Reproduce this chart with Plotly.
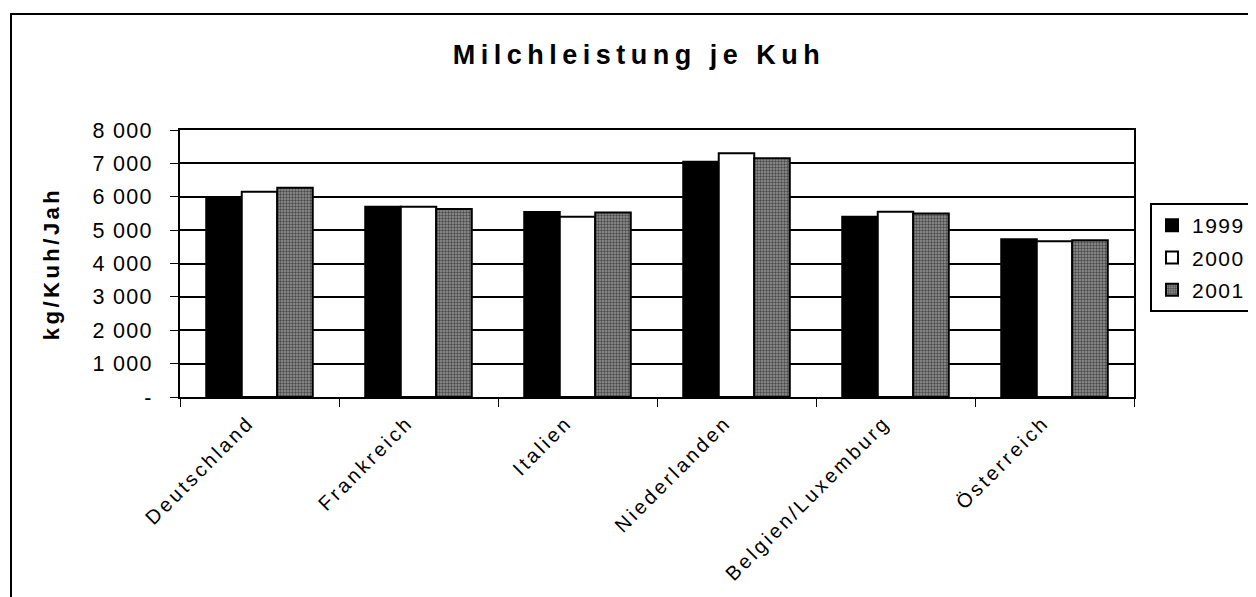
import plotly.graph_objects as go

countries = ["Deutschland", "Frankreich", "Italien", "Niederlanden", "Belgien/Luxemburg", "Österreich"]
years = ["1999", "2000", "2001"]
v1999 = [5950, 5700, 5540, 7050, 5400, 4730]
v2000 = [6150, 5700, 5400, 7300, 5550, 4670]
v2001 = [6270, 5630, 5530, 7150, 5500, 4700]
tick_vals = [0, 1000, 2000, 3000, 4000, 5000, 6000, 7000, 8000]
tick_text = ["-", "1 000", "2 000", "3 000", "4 000", "5 000", "6 000", "7 000", "8 000"]
title_text = "Milchleistung je Kuh"
y_title = "kg/Kuh/Jah"

FONT = "Liberation Sans, Arial, sans-serif"
OFF = 8  # page body margin
W, H = 1256, 597 - OFF
L, R, T, B = 180 - OFF, 1134 - OFF, 130 - OFF, 397 - OFF


def sp(s, ls):
    return f'<span style="letter-spacing:{ls}px">{s}</span>'


def px(x):
    return (x - OFF - L) / (R - L)


def py(y):
    return (B - (y - OFF)) / (B - T)


fig = go.Figure()
fig.add_bar(x=countries, y=v1999, name=sp(years[0], 1.5), legendgroup="a",
            marker=dict(color="black", line=dict(color="black", width=2)))
fig.add_bar(x=countries, y=v2000, name=sp(years[1], 1.5), legendgroup="b",
            marker=dict(color="white", line=dict(color="black", width=2)))
fig.add_bar(x=countries, y=v2001, name=sp(years[2], 1.5), legendgroup="c",
            marker=dict(color="#858585", line=dict(color="black", width=2),
                        pattern=dict(shape=".", fgcolor="#000000", bgcolor="#969696",
                                     size=3, solidity=0.5)))

fig.update_layout(
    width=W, height=H,
    margin=dict(l=L, r=W - R, t=T, b=H - B, pad=0, autoexpand=False),
    paper_bgcolor="white", plot_bgcolor="white",
    font=dict(family=FONT, color="black", size=20),
    barmode="group", bargap=0.33, bargroupgap=0,
    title=dict(text="<b>" + sp(title_text, 5.5) + "</b>", x=px(639), xref="paper", xanchor="center",
               y=1 - (55 - OFF) / H, yanchor="middle", font=dict(size=27, family=FONT, color="black")),
    showlegend=True,
    legend=dict(x=px(1150), y=py(203), xanchor="left", yanchor="top",
                bordercolor="black", borderwidth=2, bgcolor="white",
                font=dict(size=21, family=FONT, color="black"),
                itemwidth=30, traceorder="grouped", tracegroupgap=2),
    shapes=[dict(type="rect", xref="paper", yref="paper",
                 x0=px(11), x1=px(1275), y0=py(620), y1=py(14),
                 line=dict(color="black", width=2), fillcolor="rgba(0,0,0,0)", layer="below")],
)
fig.update_xaxes(showline=True, linecolor="black", linewidth=2, mirror=True,
                 ticks="outside", tickson="boundaries", ticklen=8, tickcolor="black", tickwidth=1,
                 tickvals=countries, ticktext=[sp(c, 3) for c in countries],
                 tickangle=-45, tickfont=dict(size=20, family=FONT),
                 ticklabelshift=-11, ticklabelstandoff=4, showgrid=False)
fig.update_yaxes(range=[0, 8000], tickvals=tick_vals, ticktext=[sp(t, 1.3) for t in tick_text],
                 showline=True, linecolor="black", linewidth=2, mirror=True,
                 ticks="outside", ticklen=8, tickcolor="black", tickwidth=1,
                 showgrid=True, gridcolor="black", gridwidth=2,
                 tickfont=dict(size=21.5, family=FONT), ticklabelstandoff=13,
                 title=dict(text="<b>" + sp(y_title, 3.5) + "</b>", font=dict(size=22, family=FONT),
                            standoff=27))

fig.write_html("out.html")
